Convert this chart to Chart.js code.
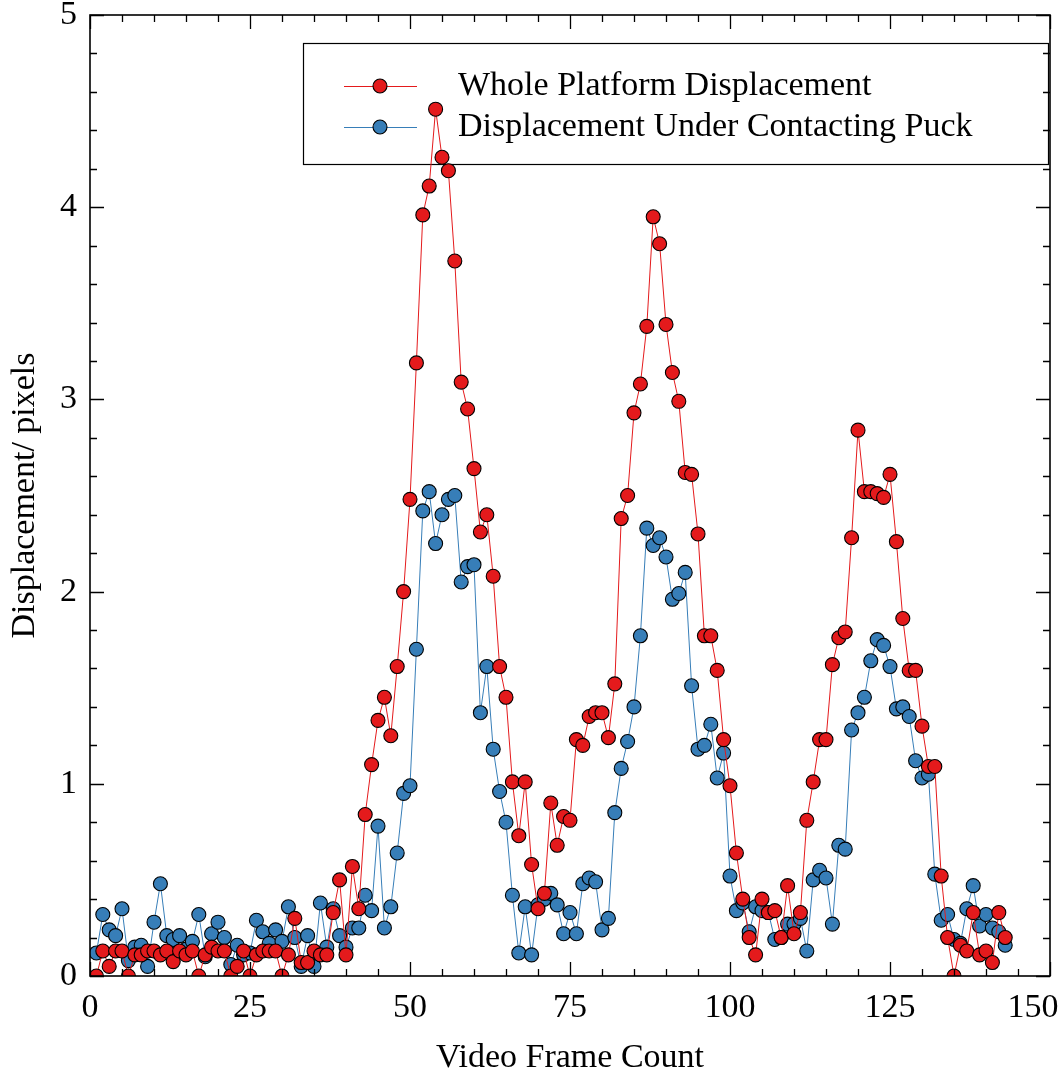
<!DOCTYPE html>
<html>
<head>
<meta charset="utf-8">
<script src="https://cdn.jsdelivr.net/npm/chart.js@4.4.1/dist/chart.umd.min.js"></script>
<style>
  html, body { margin: 0; padding: 0; background: #ffffff; }
  canvas { display: block; }
</style>
</head>
<body>
<canvas id="chart" width="1063" height="1075"></canvas>
<script>
// Video frame index for every measurement
const frames = [
  1, 2, 3, 4, 5, 6, 7, 8, 9, 10, 11, 12, 13, 14, 15, 16, 17, 18, 19, 20,
  21, 22, 23, 24, 25, 26, 27, 28, 29, 30, 31, 32, 33, 34, 35, 36, 37, 38, 39, 40,
  41, 42, 43, 44, 45, 46, 47, 48, 49, 50, 51, 52, 53, 54, 55, 56, 57, 58, 59, 60,
  61, 62, 63, 64, 65, 66, 67, 68, 69, 70, 71, 72, 73, 74, 75, 76, 77, 78, 79, 80,
  81, 82, 83, 84, 85, 86, 87, 88, 89, 90, 91, 92, 93, 94, 95, 96, 97, 98, 99, 100,
  101, 102, 103, 104, 105, 106, 107, 108, 109, 110, 111, 112, 113, 114, 115, 116, 117, 118, 119, 120,
  121, 122, 123, 124, 125, 126, 127, 128, 129, 130, 131, 132, 133, 134, 135, 136, 137, 138, 139, 140,
  141, 142, 143
];

// Displacement of the whole platform (pixels)
const wholePlatform = [
  0.00, 0.13, 0.05, 0.13, 0.13, 0.00, 0.11, 0.11, 0.13, 0.13, 0.11, 0.13, 0.075, 0.13, 0.11, 0.13, 0.00, 0.11, 0.15, 0.13,
  0.13, 0.00, 0.05, 0.13, 0.00, 0.11, 0.13, 0.13, 0.13, 0.00, 0.11, 0.30, 0.07, 0.07, 0.13, 0.11, 0.11, 0.33, 0.50, 0.11,
  0.57, 0.35, 0.84, 1.10, 1.33, 1.45, 1.25, 1.61, 2.00, 2.48, 3.19, 3.96, 4.11, 4.51, 4.26, 4.19, 3.72, 3.09, 2.95, 2.64,
  2.31, 2.40, 2.08, 1.61, 1.45, 1.01, 0.73, 1.01, 0.58, 0.35, 0.43, 0.90, 0.68, 0.83, 0.81, 1.23, 1.20, 1.35, 1.37, 1.37,
  1.24, 1.52, 2.38, 2.50, 2.93, 3.08, 3.38, 3.95, 3.81, 3.39, 3.14, 2.99, 2.62, 2.61, 2.30, 1.77, 1.77, 1.59, 1.23, 0.99,
  0.64, 0.40, 0.20, 0.11, 0.40, 0.33, 0.34, 0.20, 0.47, 0.22, 0.33, 0.81, 1.01, 1.23, 1.23, 1.62, 1.76, 1.79, 2.28, 2.84,
  2.52, 2.52, 2.51, 2.49, 2.61, 2.26, 1.86, 1.59, 1.59, 1.30, 1.09, 1.09, 0.52, 0.20, 0.00, 0.16, 0.13, 0.33, 0.11, 0.13,
  0.07, 0.33, 0.20
];

// Displacement measured under the contacting puck (pixels)
const underPuck = [
  0.12, 0.32, 0.24, 0.21, 0.35, 0.08, 0.15, 0.16, 0.05, 0.28, 0.48, 0.21, 0.19, 0.21, 0.14, 0.18, 0.32, 0.10, 0.22, 0.28,
  0.20, 0.06, 0.16, 0.11, 0.12, 0.29, 0.23, 0.17, 0.24, 0.18, 0.36, 0.20, 0.05, 0.21, 0.05, 0.38, 0.15, 0.35, 0.21, 0.15,
  0.25, 0.25, 0.42, 0.34, 0.78, 0.25, 0.36, 0.64, 0.95, 0.99, 1.70, 2.42, 2.52, 2.25, 2.40, 2.48, 2.50, 2.05, 2.13, 2.14,
  1.37, 1.61, 1.18, 0.96, 0.80, 0.42, 0.12, 0.36, 0.11, 0.37, 0.40, 0.43, 0.37, 0.22, 0.33, 0.22, 0.48, 0.51, 0.49, 0.24,
  0.30, 0.85, 1.08, 1.22, 1.40, 1.77, 2.33, 2.24, 2.28, 2.18, 1.96, 1.99, 2.10, 1.51, 1.18, 1.20, 1.31, 1.03, 1.16, 0.52,
  0.34, 0.38, 0.23, 0.36, 0.34, 0.33, 0.19, 0.20, 0.27, 0.27, 0.30, 0.13, 0.50, 0.55, 0.51, 0.27, 0.68, 0.66, 1.28, 1.37,
  1.45, 1.64, 1.75, 1.72, 1.61, 1.39, 1.40, 1.35, 1.12, 1.03, 1.05, 0.53, 0.29, 0.32, 0.19, 0.17, 0.35, 0.47, 0.26, 0.32,
  0.25, 0.23, 0.16
];

const seriesLabels = ['Whole Platform Displacement', 'Displacement Under Contacting Puck'];
const xTickValues = [0, 25, 50, 75, 100, 125, 150];
const yTickValues = [0, 1, 2, 3, 4, 5];

const RED = '#e41a1c';
const BLUE = '#377eb8';
const FONT_FAMILY = '"Liberation Serif", "DejaVu Serif", serif';
const FONT_SIZE = 34;
const MARKER_RADIUS = 7;

function toPoints(values) {
  return frames.map((f, i) => ({ x: f, y: values[i] }));
}

function seriesStyle(color) {
  return {
    borderColor: color,
    backgroundColor: color,
    borderWidth: 1,
    pointRadius: MARKER_RADIUS,
    pointHoverRadius: MARKER_RADIUS,
    pointBorderWidth: 1.1,
    pointBorderColor: '#000000',
    pointBackgroundColor: color,
    tension: 0,
    fill: false
  };
}

// Inward ticks on all four sides plus the axes frame
const framePlugin = {
  id: 'frameTicks',
  afterDatasetsDraw(chart) {
    const { ctx, chartArea: a, scales: { x, y } } = chart;
    const major = 14, minor = 7;
    ctx.save();
    ctx.strokeStyle = '#000000';
    ctx.lineWidth = 1.3;
    ctx.beginPath();
    for (let v = 0; v <= 150 + 1e-9; v += 5) {
      const px = Math.round(x.getPixelForValue(v)) + 0.5;
      const len = (v % 25 === 0) ? major : minor;
      ctx.moveTo(px, a.bottom); ctx.lineTo(px, a.bottom - len);
      ctx.moveTo(px, a.top); ctx.lineTo(px, a.top + len);
    }
    for (let k = 0; k <= 25; k++) {
      const v = k * 0.2;
      const py = Math.round(y.getPixelForValue(v)) + 0.5;
      const len = (k % 5 === 0) ? major : minor;
      ctx.moveTo(a.left, py); ctx.lineTo(a.left + len, py);
      ctx.moveTo(a.right, py); ctx.lineTo(a.right - len, py);
    }
    ctx.stroke();
    ctx.lineWidth = 1.6;
    ctx.strokeRect(a.left, a.top, a.right - a.left, a.bottom - a.top);
    ctx.restore();
  }
};

// Framed legend box inside the plot, with line-and-marker samples
const legendBoxPlugin = {
  id: 'legendBox',
  beforeDatasetsDraw(chart) {
    const { ctx, chartArea: a } = chart;
    const left = a.left + 213, right = a.right - 2;
    const top = a.top + 28, bottom = a.top + 149;
    ctx.save();
    ctx.fillStyle = '#ffffff';
    ctx.fillRect(left, top, right - left, bottom - top);
    ctx.strokeStyle = '#000000';
    ctx.lineWidth = 1.2;
    ctx.strokeRect(left + 0.5, top + 0.5, right - left, bottom - top);
    const rows = [top + 43, top + 84];
    chart.data.datasets.forEach((ds, i) => {
      const cy = rows[i];
      ctx.strokeStyle = ds.borderColor;
      ctx.lineWidth = 1;
      ctx.beginPath();
      ctx.moveTo(left + 41, cy + 0.5);
      ctx.lineTo(left + 114, cy + 0.5);
      ctx.stroke();
      ctx.beginPath();
      ctx.arc(left + 77, cy, MARKER_RADIUS, 0, Math.PI * 2);
      ctx.fillStyle = ds.pointBackgroundColor;
      ctx.fill();
      ctx.strokeStyle = '#000000';
      ctx.lineWidth = 1.1;
      ctx.stroke();
      ctx.fillStyle = '#000000';
      ctx.font = FONT_SIZE + 'px ' + FONT_FAMILY;
      ctx.textBaseline = 'middle';
      ctx.textAlign = 'left';
      ctx.fillText(ds.label, left + 155, cy);
    });
    ctx.restore();
  }
};

const tickFont = { family: FONT_FAMILY, size: FONT_SIZE };
const titleFont = { family: FONT_FAMILY, size: FONT_SIZE, lineHeight: 1 };

new Chart(document.getElementById('chart'), {
  type: 'line',
  data: {
    datasets: [
      Object.assign({ label: seriesLabels[0], data: toPoints(wholePlatform) }, seriesStyle(RED)),
      Object.assign({ label: seriesLabels[1], data: toPoints(underPuck) }, seriesStyle(BLUE))
    ]
  },
  options: {
    responsive: false,
    animation: false,
    devicePixelRatio: 1,
    layout: { padding: { top: 15, right: 13, left: 0, bottom: 0 } },
    plugins: {
      legend: { display: false },
      tooltip: { enabled: false },
      title: { display: false }
    },
    scales: {
      x: {
        type: 'linear',
        min: 0,
        max: 150,
        afterBuildTicks(scale) { scale.ticks = xTickValues.map(v => ({ value: v })); },
        ticks: {
          font: tickFont,
          color: '#000000',
          padding: 12,
          maxRotation: 0,
          autoSkip: false,
          // keep the right-most label inside the canvas
          callback: (value) => (value === 150 ? '150\u2002\u2002' : String(value))
        },
        grid: { display: false, drawTicks: false },
        border: { display: false },
        title: {
          display: true,
          text: 'Video Frame Count',
          font: titleFont,
          color: '#000000',
          padding: { top: 10, bottom: 0 }
        },
        afterFit(scale) {
          scale.height = 99;
          scale.paddingLeft = 0;
          scale.paddingRight = 0;
        }
      },
      y: {
        type: 'linear',
        min: 0,
        max: 5,
        afterBuildTicks(scale) { scale.ticks = yTickValues.map(v => ({ value: v })); },
        ticks: { font: tickFont, color: '#000000', padding: 13, autoSkip: false },
        grid: { display: false, drawTicks: false },
        border: { display: false },
        title: {
          display: true,
          text: 'Displacement/ pixels',
          font: titleFont,
          color: '#000000',
          padding: { top: 8, bottom: 10 }
        },
        afterFit(scale) {
          scale.width = 90;
          scale.paddingTop = 0;
          scale.paddingBottom = 0;
        }
      }
    }
  },
  plugins: [legendBoxPlugin, framePlugin]
});
</script>
</body>
</html>
